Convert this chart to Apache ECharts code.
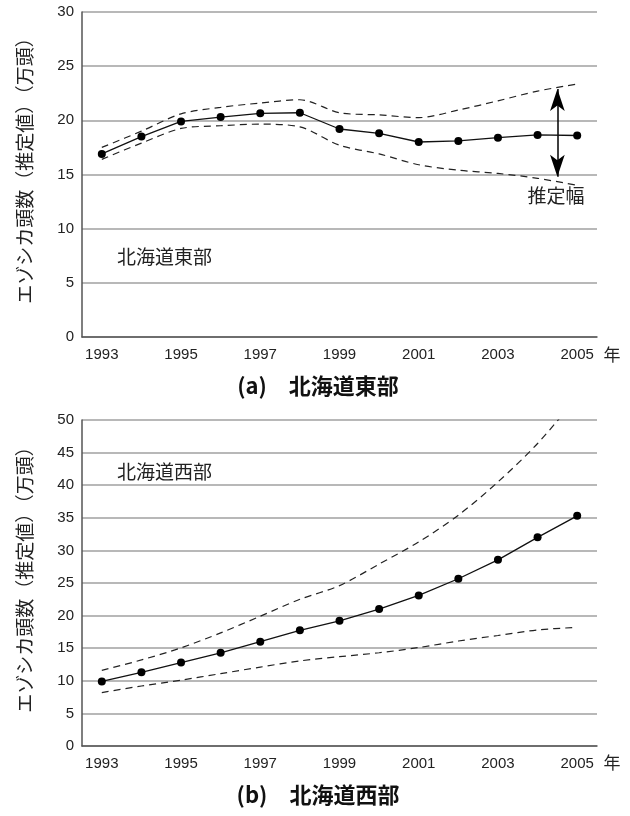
<!DOCTYPE html>
<html><head><meta charset="utf-8">
<script src="https://cdn.jsdelivr.net/npm/echarts@6/dist/echarts.min.js"></script>
<style>html,body{margin:0;padding:0;background:#fff}#c{width:630px;height:816px}</style>
</head><body><div id="c"></div>
<script>
const years = ['1993','1994','1995','1996','1997','1998','1999','2000','2001','2002','2003','2004','2005'];
const eastEst   = [16.9, 18.5, 19.9, 20.3, 20.65, 20.7, 19.2, 18.8, 18.0, 18.1, 18.4, 18.65, 18.6];
const eastUpper = [17.5, 19.0, 20.6, 21.2, 21.6, 21.9, 20.7, 20.5, 20.25, 20.95, 21.8, 22.7, 23.35];
const eastLower = [16.4, 17.9, 19.25, 19.5, 19.65, 19.4, 17.7, 16.9, 15.9, 15.4, 15.1, 14.65, 14.0];
const westEst   = [9.9, 11.3, 12.8, 14.3, 16.0, 17.75, 19.2, 21.0, 23.1, 25.65, 28.55, 32.0, 35.3];
const westUpper = [11.6, 13.2, 15.05, 17.35, 19.9, 22.5, 24.6, 27.9, 31.3, 35.4, 40.5, 46.4, 53.5];
const westLower = [8.2, 9.2, 10.1, 11.1, 12.1, 13.05, 13.7, 14.3, 15.1, 16.1, 16.95, 17.8, 18.2];
const eastArrow = {year: 2004.5, from: 22.9, to: 14.8};
const yTicksEast = {min: 0, max: 30, interval: 5};
const yTicksWest = {min: 0, max: 50, interval: 5};
const yName = 'エゾシカ頭数（推定値）（万頭）';
const yearUnit = '年';
const titleA = '(a)　北海道東部';
const titleB = '(b)　北海道西部';
const labelEast = '北海道東部';
const labelWest = '北海道西部';
const labelRange = '推定幅';

const FONT = '"Liberation Sans", Arial, sans-serif';
const CJK = '"Noto Sans CJK JP", sans-serif';
const chart = echarts.init(document.getElementById('c'), null, {renderer: 'canvas'});

function xAxisCat(gi) {
  return {
    type: 'category', gridIndex: gi, data: years, boundaryGap: true,
    axisLine: {lineStyle: {color: '#555', width: 1.5}},
    axisTick: {alignWithLabel: true, interval: 0, length: 5, lineStyle: {color: '#555', width: 1.2}},
    axisLabel: {interval: 1, color: '#222', fontSize: 15, fontFamily: FONT, margin: 10},
    splitLine: {show: false}
  };
}
function xAxisVal(gi) {
  return {type: 'value', gridIndex: gi, min: 1992.5, max: 2005.5, show: false, splitLine: {show: false}};
}
function yAxis(gi, t) {
  return {
    type: 'value', gridIndex: gi, min: t.min, max: t.max, interval: t.interval,
    axisLine: {show: true, lineStyle: {color: '#555', width: 1.5}},
    axisTick: {show: false},
    axisLabel: {color: '#222', fontSize: 15, fontFamily: FONT, margin: 8},
    splitLine: {lineStyle: {color: '#a0a0a0', width: 1.5}}
  };
}
const dashStyle = {color: '#222', width: 1.2, type: [7, 5]};
function est(xi, yi, d) {
  return {type: 'line', xAxisIndex: xi, yAxisIndex: yi, data: d, symbol: 'circle', symbolSize: 8,
    itemStyle: {color: '#000'}, lineStyle: {color: '#111', width: 1.3}, z: 5, silent: true, animation: false};
}
function dash(xi, yi, d) {
  return {type: 'line', xAxisIndex: xi, yAxisIndex: yi, data: d, symbol: 'none', smooth: 0.3,
    lineStyle: dashStyle, clip: true, silent: true, animation: false};
}

chart.setOption({
  animation: false,
  grid: [
    {left: 82, right: 33, top: 12, bottom: 479},
    {left: 82, right: 33, top: 420, bottom: 70}
  ],
  xAxis: [xAxisCat(0), xAxisCat(1), xAxisVal(0)],
  yAxis: [yAxis(0, yTicksEast), yAxis(1, yTicksWest)],
  series: [
    dash(0, 0, eastUpper), dash(0, 0, eastLower), est(0, 0, eastEst),
    dash(1, 1, westUpper), dash(1, 1, westLower), est(1, 1, westEst),
    {type: 'line', xAxisIndex: 2, yAxisIndex: 0, data: [], silent: true,
      markLine: {silent: true, symbol: ['arrow', 'arrow'], symbolSize: [11, 22],
        label: {show: false},
        lineStyle: {color: '#000', width: 1.5, type: 'solid'},
        data: [[{coord: [eastArrow.year, eastArrow.from]}, {coord: [eastArrow.year, eastArrow.to]}]]}}
  ],
  graphic: [
    {type: 'text', x: 25, y: 166, rotation: Math.PI / 2,
      style: {text: yName, font: '19px ' + CJK, fill: '#222', align: 'center', verticalAlign: 'middle'}},
    {type: 'text', x: 25, y: 575, rotation: Math.PI / 2,
      style: {text: yName, font: '19px ' + CJK, fill: '#222', align: 'center', verticalAlign: 'middle'}},
    {type: 'text', x: 612, y: 355,
      style: {text: yearUnit, font: '17px ' + CJK, fill: '#222', align: 'center', verticalAlign: 'middle'}},
    {type: 'text', x: 612, y: 763,
      style: {text: yearUnit, font: '17px ' + CJK, fill: '#222', align: 'center', verticalAlign: 'middle'}},
    {type: 'text', x: 117, y: 257,
      style: {text: labelEast, font: '19px ' + CJK, fill: '#222', align: 'left', verticalAlign: 'middle'}},
    {type: 'text', x: 117, y: 472,
      style: {text: labelWest, font: '19px ' + CJK, fill: '#222', align: 'left', verticalAlign: 'middle'}},
    {type: 'text', x: 556, y: 196,
      style: {text: labelRange, font: '19px ' + CJK, fill: '#222', align: 'center', verticalAlign: 'middle'}},
    {type: 'text', x: 318, y: 386,
      style: {text: titleA, font: 'bold 22px ' + CJK, fill: '#111', align: 'center', verticalAlign: 'middle'}},
    {type: 'text', x: 318, y: 795,
      style: {text: titleB, font: 'bold 22px ' + CJK, fill: '#111', align: 'center', verticalAlign: 'middle'}}
  ]
});
</script></body></html>
